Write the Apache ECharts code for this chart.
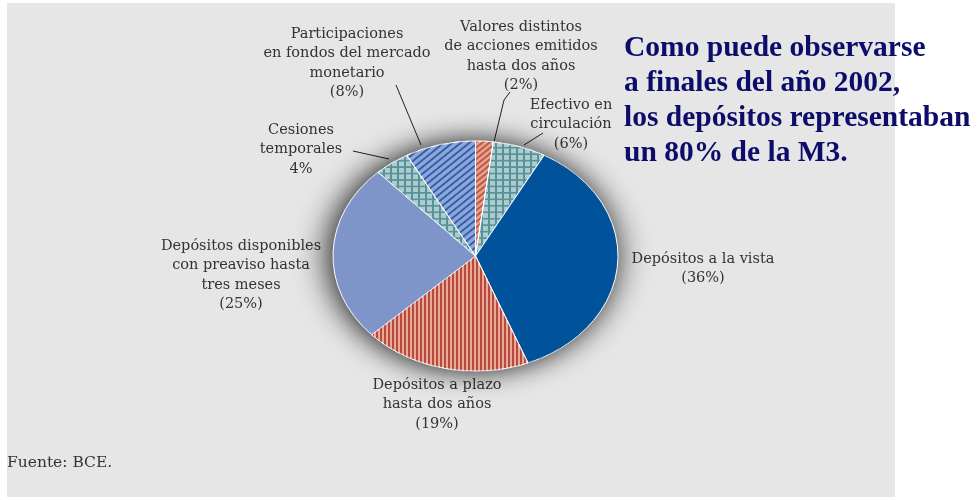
<!DOCTYPE html>
<html>
<head>
<meta charset="utf-8">
<script src="https://cdn.jsdelivr.net/npm/echarts@6/dist/echarts.min.js"></script>
<style>
  html, body { margin: 0; padding: 0; background: #fff; }
  #wrap { position: relative; width: 979px; height: 500px; overflow: hidden; }
  #texts { position: absolute; left: 0; top: 0; width: 979px; height: 500px; }
  /* the pie in the source is an ellipse: draw a circle and squash it */
  #pie { position: absolute; left: 0; top: 0; width: 979px; height: 620px;
         transform-origin: 0 0; transform: scaleY(0.807); }
</style>
</head>
<body>
<div id="wrap">
  <div id="texts"></div>
  <div id="pie"></div>
</div>
<script>
// slices, clockwise from 12 o'clock
const categories = [
  'Valores distintos\nde acciones emitidos\nhasta dos años',
  'Efectivo en\ncirculación',
  'Depósitos a la vista',
  'Depósitos a plazo\nhasta dos años',
  'Depósitos disponibles\ncon preaviso hasta\ntres meses',
  'Cesiones\ntemporales',
  'Participaciones\nen fondos del mercado\nmonetario'
];
const shares = [2, 6, 36, 19, 25, 4, 8];
const inParens = [true, true, true, true, true, false, true];

const titleLines = [
  'Como puede observarse',
  'a finales del año 2002,',
  'los depósitos representaban',
  'un 80% de la M3.'
];
const sourceNote = 'Fuente: BCE.';

// label placement (centre x, centre y of first line)
const labelPos = [
  [521, 27], [571, 105], [703, 259], [437, 385], [241, 246], [301, 130], [347, 34]
];
const leaderLines = [
  [[510, 92], [504, 100], [493, 146]],
  [[543, 133], [524, 145]],
  null, null, null,
  [[353, 151], [389, 159]],
  [[396, 85], [421, 145]]
];

const teal = { base: '#55939a', light: '#afcbce' };
const sliceStyles = [
  { color: '#e3a493', decal: { symbol: 'rect', symbolKeepAspect: false, color: '#c0503e',
      dashArrayX: [1, 0], dashArrayY: [1.8, 2.6], rotation: -Math.PI / 4 } },
  { color: teal.base, decal: { symbol: 'rect', symbolKeepAspect: false, color: teal.light,
      dashArrayX: [4.2, 1.6], dashArrayY: [5.2, 2], rotation: 0 } },
  { color: '#00529b' },
  { color: '#e7a999', decal: { symbol: 'rect', symbolKeepAspect: false, color: '#b94a3b',
      dashArrayX: [1.4, 1.6], dashArrayY: [1, 0], rotation: 0 } },
  { color: '#7f94c9' },
  { color: teal.base, decal: { symbol: 'rect', symbolKeepAspect: false, color: teal.light,
      dashArrayX: [4.2, 1.6], dashArrayY: [5.2, 2], rotation: 0 } },
  { color: '#8ea7d7', decal: { symbol: 'rect', symbolKeepAspect: false, color: '#2a5aab',
      dashArrayX: [1, 0], dashArrayY: [2, 3.2], rotation: -Math.PI / 4 } }
];

const serif = '"DejaVu Serif", "Liberation Serif", serif';
const titleSerif = '"Liberation Serif", "DejaVu Serif", serif';

// ---- text layer ----
const graphics = [
  { type: 'rect', shape: { x: 7, y: 3, width: 888, height: 494 }, style: { fill: '#e6e6e6' }, z: 0 }
];
const lh = 19.5;
categories.forEach((name, i) => {
  const pct = inParens[i] ? '(' + shares[i] + '%)' : shares[i] + '%';
  graphics.push({
    type: 'text', z: 2,
    style: {
      text: name + '\n' + pct,
      x: labelPos[i][0], y: labelPos[i][1] - lh / 2,
      textAlign: 'center', textVerticalAlign: 'top',
      font: '14.5px ' + serif, lineHeight: lh, fill: '#333'
    }
  });
  if (leaderLines[i]) {
    graphics.push({
      type: 'polyline', z: 3,
      shape: { points: leaderLines[i] },
      style: { stroke: '#222', lineWidth: 1, fill: null }
    });
  }
});
graphics.push({
  type: 'text', z: 2,
  style: {
    text: titleLines.join('\n'), x: 624, y: 48 - 17.5,
    textVerticalAlign: 'top', font: 'bold 29.5px ' + titleSerif, lineHeight: 35, fill: '#0c0c6b'
  }
});
graphics.push({
  type: 'text', z: 2,
  style: {
    text: sourceNote, x: 7, y: 463, textVerticalAlign: 'middle',
    font: '15.5px ' + serif, fill: '#333'
  }
});

const textChart = echarts.init(document.getElementById('texts'));
textChart.setOption({ animation: false, graphic: graphics });

// ---- pie layer ----
const pieData = categories.map((name, i) => ({
  name: name, value: shares[i],
  itemStyle: { color: sliceStyles[i].color, decal: sliceStyles[i].decal }
}));

const center = [475.5, 256 / 0.807];
const radius = 142.5;

const pieChart = echarts.init(document.getElementById('pie'));
pieChart.setOption({
  animation: false,
  series: [
    {
      // blurred halo behind the pie
      type: 'pie', silent: true, z: 1,
      center: center, radius: radius,
      label: { show: false }, labelLine: { show: false },
      data: [{ value: 1, itemStyle: { color: '#555', shadowBlur: 34, shadowOffsetX: -3,
        shadowColor: 'rgba(0,0,0,0.95)' } }]
    },
    {
      type: 'pie', z: 2,
      center: center, radius: radius,
      startAngle: 90, clockwise: true,
      label: { show: false }, labelLine: { show: false },
      itemStyle: { borderColor: '#fff', borderWidth: 1 },
      data: pieData
    }
  ]
});
</script>
</body>
</html>
